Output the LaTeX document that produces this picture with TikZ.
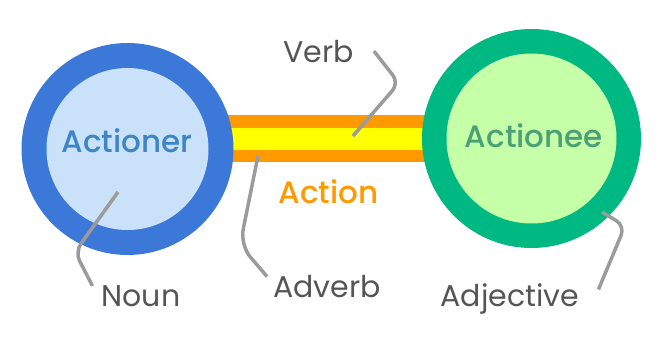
\documentclass[tikz,border=0pt]{standalone}
\usepackage{fontspec}
\setmainfont{Poppins}
\newfontfamily\medfont{Poppins Medium}
\usetikzlibrary{backgrounds}
\definecolor{ringblue}{RGB}{60,120,216}
\definecolor{paleblue}{RGB}{201,226,250}
\definecolor{textblue}{RGB}{61,133,198}
\definecolor{ringgreen}{RGB}{0,184,130}
\definecolor{palegreen}{RGB}{197,255,168}
\definecolor{textgreen}{RGB}{76,160,120}
\definecolor{actorange}{RGB}{255,153,0}
\definecolor{actyellow}{RGB}{255,255,0}
\definecolor{labelgrey}{RGB}{85,85,85}
\definecolor{leadgrey}{RGB}{155,155,155}

\begin{document}
\begin{tikzpicture}[x=1pt,y=-1pt,font=\fontsize{30}{36}\selectfont]
  \tikzstyle{disc}=[circle,inner sep=0pt]
  \tikzstyle{word}=[inner sep=0pt,anchor=base,text=labelgrey]
  \tikzstyle{hubtext}=[inner sep=0pt,anchor=base,font=\medfont\fontsize{31}{36}\selectfont]
  \tikzstyle{lead}=[draw=leadgrey,line width=3.5pt,rounded corners=10pt]
  \useasboundingbox (0,0) rectangle (670,337);
  \node[disc,fill=ringblue,minimum size=212pt] (er) at (127.5,149) {};
  \node[disc,fill=paleblue,minimum size=162pt] (erin) at (er.center) {};
  \node[disc,fill=ringgreen,minimum size=219pt] (ee) at (531.5,138.5) {};
  \node[disc,fill=palegreen,minimum size=170pt] (eein) at (ee.center) {};
  \begin{scope}[on background layer]
    \draw[actorange,line width=47pt] (er.center |- ee.center) -- (ee.center);
    \draw[actyellow,line width=22pt] (er.center |- ee.center) -- (ee.center);
  \end{scope}
  \node[hubtext,text=textblue] (actioner) at (127,152) {Actioner};
  \node[hubtext,text=textgreen] (actionee) at (534,147) {Actionee};
  \node[word,text=actorange,font=\medfont\fontsize{31}{36}\selectfont] (action) at (328.5,203) {Action};
  \node[word] (verb) at (318.5,63) {Verb};
  \node[word] (adverb) at (327,297) {Adverb};
  \node[word] (noun) at (141,306) {Noun};
  \node[word] (adjective) at (510,306) {Adjective};
  \coordinate (nounpt) at (118,192);
  \coordinate (verbpt) at (353,136);
  \coordinate (adverbpt) at (258,156);
  \coordinate (adjpt) at (602,212);
  \draw[lead] (nounpt) -- (75,252) -- ([xshift=-9pt,yshift=-1pt]noun.north west);
  \draw[lead] ([xshift=20pt,yshift=1pt]verb.east) -- (399,83) -- (verbpt);
  \draw[lead,rounded corners=16pt] (adverbpt) -- (240,245) -- ([xshift=-6pt,yshift=-2pt]adverb.north west);
  \draw[lead] (adjpt) -- (625,226) -- ([xshift=19pt,yshift=9pt]adjective.east);
\end{tikzpicture}
\end{document}
